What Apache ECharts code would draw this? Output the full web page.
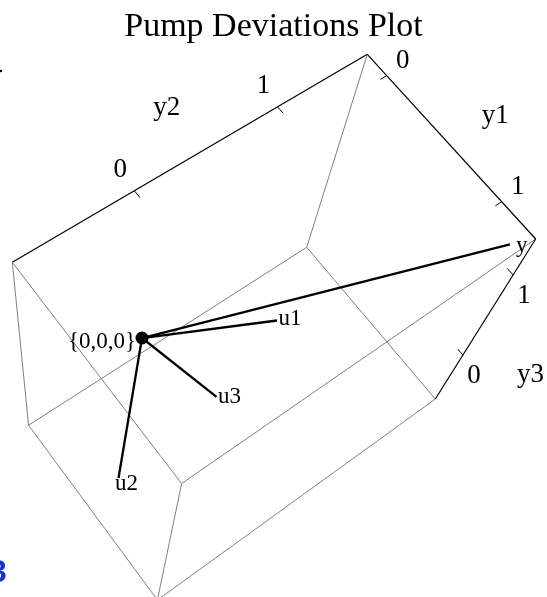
<!DOCTYPE html>
<html>
<head>
<meta charset="utf-8">
<script src="https://cdn.jsdelivr.net/npm/echarts@6/dist/echarts.min.js"></script>
<style>
  html, body { margin: 0; padding: 0; background: #ffffff; }
  #chart { width: 547px; height: 597px; }
</style>
</head>
<body>
<div id="chart"></div>
<script>
// ---- data -------------------------------------------------------------
// Axis ranges of the bounding box (y1, y2, y3)
const y1Range = [-0.176, 1.283];
const y2Range = [-0.782, 1.677];
const y3Range = [-0.671, 1.3775];
const axisNames = ['y1', 'y2', 'y3'];
const tickValues = [0, 1];
const tickLabels = ['0', '1'];

// Deviation vectors drawn from the origin
const pointNames = ['u1', 'u2', 'u3', 'y'];
const pointY1 = [0.513, 0.534, 0.512, 1.198];
const pointY2 = [0.640, -0.556, 0.245, 1.603];
const pointY3 = [0.353, -0.466, -0.261, 1.275];
const originPoint = [0, 0, 0];
const originLabel = '{0,0,0}';

// ---- view ---------------------------------------------------------------
// Perspective camera acting on the unit box (homogeneous 3x4 matrix);
// the result lives in the plane spanned by the hidden cartesian axes.
const camera = [
  [141.6, -356.35, 22.2, 367.3],
  [172.75, 179.15, 259.77, 54.3],
  [-0.05, -0.11, 0.27, 1]
];
const planeW = 547, planeH = 597;

function project(p) {
  const a = (p[0] - y1Range[0]) / (y1Range[1] - y1Range[0]);
  const b = (y2Range[1] - p[1]) / (y2Range[1] - y2Range[0]);
  const c = (y3Range[1] - p[2]) / (y3Range[1] - y3Range[0]);
  const v = [a, b, c, 1];
  const h = camera.map(r => r[0] * v[0] + r[1] * v[1] + r[2] * v[2] + r[3] * v[3]);
  return [h[0] / h[2], h[1] / h[2]];
}

const ranges = [y1Range, y2Range, y3Range];

// Box edges: gray frame, plus the three labelled axis edges in black
const boxEdges = [];
const axisEdges = [];
// axis edges: which corner indices stay fixed for each running dimension
const axisEdgeFix = {
  0: [null, 1, 1],   // y1 runs along y2 = max, y3 = max
  1: [0, null, 1],   // y2 runs along y1 = min, y3 = max
  2: [1, 1, null]    // y3 runs along y1 = max, y2 = max
};
for (let d = 0; d < 3; d++) {
  const o1 = (d + 1) % 3, o2 = (d + 2) % 3;
  for (let i = 0; i < 2; i++) {
    for (let j = 0; j < 2; j++) {
      const p0 = [0, 0, 0], p1 = [0, 0, 0];
      p0[o1] = p1[o1] = ranges[o1][i];
      p0[o2] = p1[o2] = ranges[o2][j];
      p0[d] = ranges[d][0];
      p1[d] = ranges[d][1];
      const seg = { coords: [project(p0), project(p1)] };
      const fix = axisEdgeFix[d];
      const idx = [0, 0, 0]; idx[o1] = i; idx[o2] = j;
      if (fix[o1] === idx[o1] && fix[o2] === idx[o2]) axisEdges.push(seg);
      else boxEdges.push(seg);
    }
  }
}

// Tick marks and labels on each axis edge
const span = r => r[1] - r[0];
const tickSegs = [];
const tickLabelPts = [];
const axisLabelPts = [];
const tickOffsets = [[16, -15], [-14, -21], [11, 21]];
const axisLabelOffsets = [[52, -22], [-41, -40], [44, 57]];
function edgePoint(d, t) {
  const p = [0, 0, 0];
  for (let k = 0; k < 3; k++) {
    if (k === d) p[k] = t;
    else p[k] = ranges[k][axisEdgeFix[d][k]];
  }
  return p;
}
for (let d = 0; d < 3; d++) {
  tickValues.forEach((t, ti) => {
    const base = edgePoint(d, t);
    const tip = base.slice();
    if (d === 0) tip[1] -= 0.02 * span(y2Range);
    if (d === 1) tip[0] += 0.035 * span(y1Range);
    if (d === 2) tip[0] -= 0.035 * span(y1Range);
    tickSegs.push({ coords: [project(base), project(tip)] });
    tickLabelPts.push({
      value: project(base), name: tickLabels[ti],
      label: { offset: tickOffsets[d] }
    });
  });
  const mid = (tickValues[0] + tickValues[1]) / 2;
  axisLabelPts.push({
    value: project(edgePoint(d, mid)), name: axisNames[d],
    label: { offset: axisLabelOffsets[d] }
  });
}

// Vectors from the origin
const o2d = project(originPoint);
const endPts = pointNames.map((n, i) => project([pointY1[i], pointY2[i], pointY3[i]]));
const vectorSegs = endPts.map(e => ({ coords: [o2d, e] }));
const endLabelOffsets = { u1: [13, -2], u2: [8, 6], u3: [13, 0], y: [12, 2] };
const endLabelPts = pointNames.map((n, i) => ({
  value: endPts[i], name: n, label: { offset: endLabelOffsets[n] }
}));

const serif = '"Liberation Serif", "Times New Roman", serif';
const solid = { color: '#000', opacity: 1 };

const chart = echarts.init(document.getElementById('chart'), null, { renderer: 'canvas' });
chart.setOption({
  animation: false,
  backgroundColor: '#ffffff',
  title: {
    text: 'Pump Deviations Plot',
    left: 'center',
    top: 5,
    textStyle: { fontFamily: serif, fontSize: 34, fontWeight: 'normal', color: '#000' }
  },
  grid: { left: 0, right: 0, top: 0, bottom: 0 },
  xAxis: { type: 'value', min: 0, max: planeW, show: false },
  yAxis: { type: 'value', min: 0, max: planeH, inverse: true, show: false },
  series: [
    {
      type: 'lines', coordinateSystem: 'cartesian2d', data: boxEdges,
      lineStyle: { color: '#808080', width: 1, opacity: 1 }, silent: true, z: 1
    },
    {
      type: 'lines', coordinateSystem: 'cartesian2d', data: axisEdges,
      lineStyle: { color: '#000', width: 1.2, opacity: 1 }, silent: true, z: 2
    },
    {
      type: 'lines', coordinateSystem: 'cartesian2d', data: tickSegs,
      lineStyle: { color: '#000', width: 1, opacity: 1 }, silent: true, z: 2
    },
    {
      type: 'lines', coordinateSystem: 'cartesian2d', data: vectorSegs,
      lineStyle: { color: '#000', width: 2.3, opacity: 1 }, silent: true, z: 3
    },
    {
      type: 'scatter', data: [{ value: o2d, name: originLabel }],
      symbolSize: 13, itemStyle: solid, z: 4,
      label: {
        show: true, position: 'inside', offset: [-40, 4], formatter: '{b}',
        fontFamily: serif, fontSize: 23, color: '#000', opacity: 1
      }
    },
    {
      type: 'scatter', data: endLabelPts, symbolSize: 0, itemStyle: solid, z: 4,
      label: {
        show: true, position: 'inside', formatter: '{b}',
        fontFamily: serif, fontSize: 23, color: '#000', opacity: 1
      }
    },
    {
      type: 'scatter', data: tickLabelPts.concat(axisLabelPts), symbolSize: 0, itemStyle: solid, z: 4,
      label: {
        show: true, position: 'inside', formatter: '{b}',
        fontFamily: serif, fontSize: 27, color: '#000', opacity: 1
      }
    }
  ],
  graphic: [
    { type: 'circle', shape: { cx: 1, cy: 71, r: 1.3 }, style: { fill: '#000' } },
    {
      type: 'text', x: -11, y: 557,
      style: { text: '3', fill: '#1533d1', font: 'bold 32px "Liberation Sans", Arial, sans-serif' }
    }
  ]
});
</script>
</body>
</html>
